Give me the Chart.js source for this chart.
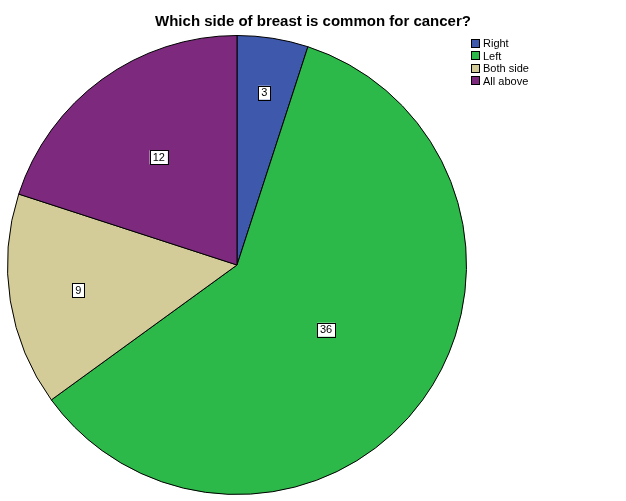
<!DOCTYPE html>
<html><head><meta charset="utf-8">
<script src="https://cdn.jsdelivr.net/npm/chart.js@4"></script>
<style>
body{margin:0;background:#fff;font-family:Arial,"Liberation Sans",sans-serif;}
#wrap{position:relative;width:626px;height:501px;}
#title{position:absolute;top:12px;left:0;width:626px;text-align:center;font-weight:bold;font-size:15px;color:#000;}
#legend{position:absolute;left:471px;top:37px;font-size:11px;line-height:12.5px;}
#legend div{display:flex;align-items:center;}
#legend span{display:inline-block;width:9px;height:9px;border:1px solid #000;margin-right:3px;box-sizing:border-box;}
</style></head><body>
<div id="wrap">
<canvas id="c" width="626" height="501"></canvas>
<div id="title">Which side of breast is common for cancer?</div>
<div id="legend"></div>
</div>
<script>
const categories=["Right","Left","Both side","All above"];
const counts=[3,36,9,12];
const colors=["#3e58ac","#2db84a","#d4cc98","#7d2a7e"];
const labelRadius=[0.76,0.48,0.7,0.58];
const leg=document.getElementById('legend');
categories.forEach((c,i)=>{const d=document.createElement('div');d.innerHTML='<span style="background:'+colors[i]+'"></span>'+c;leg.appendChild(d);});
const boxLabels={id:'boxLabels',afterDatasetsDraw(chart){
 const ctx=chart.ctx;const meta=chart.getDatasetMeta(0);
 ctx.save();ctx.font='11px Arial, "Liberation Sans"';ctx.textAlign='center';ctx.textBaseline='middle';
 meta.data.forEach((a,i)=>{const ang=(a.startAngle+a.endAngle)/2;const r=a.outerRadius*labelRadius[i];
  const x=a.x+Math.cos(ang)*r,y=a.y+Math.sin(ang)*r;const t=String(counts[i]);const w=ctx.measureText(t).width+6;
  ctx.fillStyle='#fff';ctx.fillRect(x-w/2,y-7,w,14);ctx.strokeStyle='#000';ctx.lineWidth=1;ctx.strokeRect(Math.round(x-w/2)+0.5,Math.round(y-7)+0.5,Math.round(w),14);
  ctx.fillStyle='#000';ctx.fillText(t,x,y+0.5);});
 ctx.restore();}};
new Chart(document.getElementById('c'),{type:'pie',
 data:{labels:categories,datasets:[{data:counts,backgroundColor:colors,borderColor:'#000',borderWidth:1}]},
 options:{responsive:false,animation:false,layout:{padding:{left:7,right:159,top:35,bottom:6}},
  plugins:{legend:{display:false},tooltip:{enabled:false}}},
 plugins:[boxLabels]});
</script>
</body></html>
